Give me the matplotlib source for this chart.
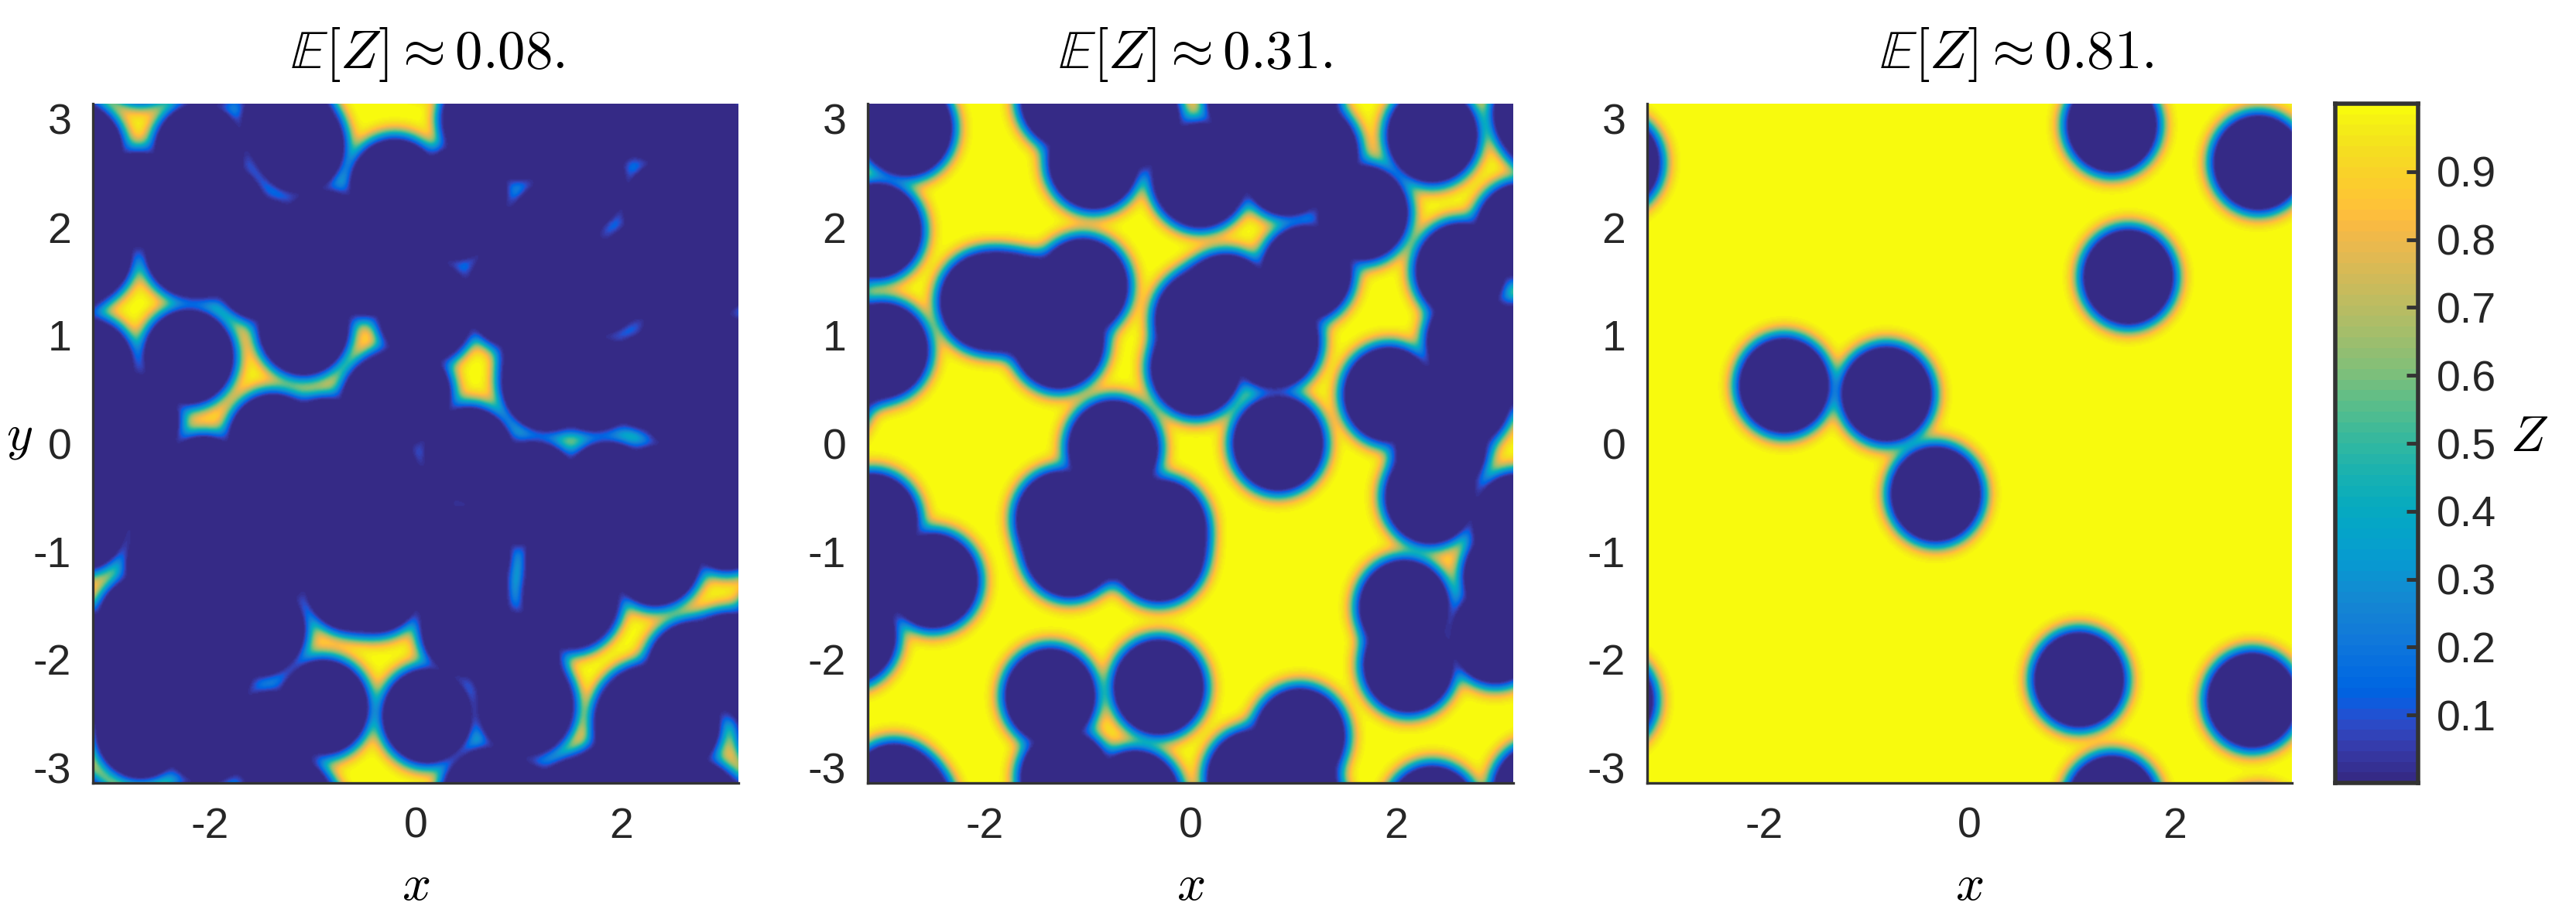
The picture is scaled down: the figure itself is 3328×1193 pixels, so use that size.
import numpy as np
import matplotlib
matplotlib.use("Agg")
import matplotlib.pyplot as plt
from matplotlib.colors import ListedColormap

plt.rcParams['font.family'] = ['Liberation Sans', 'DejaVu Sans']
plt.rcParams['mathtext.fontset'] = 'cm'

titles = [r'$\mathbb{E}[Z] \approx 0.08.$', r'$\mathbb{E}[Z] \approx 0.31.$', r'$\mathbb{E}[Z] \approx 0.81.$']
x_ticks = [-2, 0, 2]
y_ticks = [-3, -2, -1, 0, 1, 2, 3]
cbar_ticks = [0.1, 0.2, 0.3, 0.4, 0.5, 0.6, 0.7, 0.8, 0.9]

# Disc centres, on a reading grid of 1484 x 1530 per period
# (panel's top-left corner at 36, 25).
disc_read_1 = [
 (0,130),(280,130),(140,240),(145,1440),(510,120),(730,210),(945,55),(565,325),(330,265),
 (868,272),(1020,90),(1098,305),(1050,355),(885,225),(800,500),(805,485),(1000,465),(1005,445),
 (1225,48),(1335,48),(1358,258),(1160,205),
 (22,362),(258,352),(255,595),(25,618),
 (520,530),(450,785),(570,795),(710,700),(665,395),(290,880),(130,740),
 (755,680),(1080,657),(1085,590),(1190,657),(1310,650),(900,815),(1050,893),(1220,893),(1340,900),
 (150,1195),(1495,970),(230,990),(215,1065),(1500,1280),
 (1310,1400),(1415,1300),(1135,1140),(1330,1050),(1032,1385),(1295,1420),(1300,1500),(1150,1625),(1375,1425),
 (893,1040),(885,1130),(1135,1050),(1135,1140),(1010,910),(1005,1280),
 (625,1105),(690,1110),(420,1210),(895,1210),(565,1385),(805,1405),(1030,1380),(955,1600),(480,1600),(440,1455),
 (130,860),(340,990),(620,960),(760,950),(300,1450),(300,1300),(100,1330),(1240,1000),(1200,440),(1300,400),
 (1450,400),(1450,220),(1150,80),(1420,80),(1400,560),(1480,620),(1480,760),(1400,700),(680,860),(480,950),
 (420,405),(300,350),(430,345),(550,420),(640,350),(730,350),(300,1180),(320,1100),(250,1260),(440,1050),
]
disc_read_2 = [
 (125,80),(55,310),(70,580),(305,470),(350,470),(410,480),(530,435),(475,560),(555,155),(490,1545),(800,195),(800,175),(1335,95),
 (1175,270),(1060,135),(1000,170),(860,470),(1045,405),(970,560),(790,620),(800,510),(980,790),(1235,680),
 (1400,400),(1425,560),(1355,800),(1330,910),(1410,690),(1530,965),(1510,1090),(1270,1160),(1280,1290),(1480,1225),
 (600,800),(480,960),(500,1030),(710,980),(705,1040),(600,930),(600,985),(185,1100),(95,1575),(455,1360),(705,1340),(650,1590),
 (920,1545),(1030,1450),(1010,1560),(1480,600),
]
disc_x_3 = [-1.81, -0.81, -0.33, 1.55, 1.39, 2.82, 1.07, 2.76]
disc_y_3 = [0.535, 0.455, -0.47, 1.54, 2.95, 2.60, -2.19, -2.38]

parula = [[0.2081,0.1663,0.5292],[0.2116,0.1898,0.5777],[0.2123,0.2138,0.6270],[0.2081,0.2386,0.6771],
[0.1959,0.2645,0.7279],[0.1707,0.2919,0.7792],[0.1253,0.3242,0.8303],[0.0591,0.3598,0.8683],
[0.0117,0.3875,0.8820],[0.0060,0.4086,0.8828],[0.0165,0.4266,0.8786],[0.0329,0.4430,0.8720],
[0.0498,0.4586,0.8641],[0.0629,0.4737,0.8554],[0.0723,0.4887,0.8467],[0.0779,0.5040,0.8384],
[0.0793,0.5200,0.8312],[0.0749,0.5375,0.8263],[0.0641,0.5570,0.8240],[0.0488,0.5772,0.8228],
[0.0343,0.5966,0.8199],[0.0265,0.6137,0.8135],[0.0239,0.6287,0.8038],[0.0231,0.6418,0.7913],
[0.0228,0.6535,0.7768],[0.0267,0.6642,0.7607],[0.0384,0.6743,0.7436],[0.0590,0.6838,0.7254],
[0.0843,0.6928,0.7062],[0.1133,0.7015,0.6859],[0.1453,0.7098,0.6646],[0.1801,0.7177,0.6424],
[0.2178,0.7250,0.6193],[0.2586,0.7317,0.5954],[0.3022,0.7376,0.5712],[0.3482,0.7424,0.5473],
[0.3953,0.7459,0.5244],[0.4420,0.7481,0.5033],[0.4871,0.7491,0.4840],[0.5300,0.7491,0.4661],
[0.5709,0.7485,0.4494],[0.6099,0.7473,0.4337],[0.6473,0.7456,0.4188],[0.6834,0.7435,0.4044],
[0.7184,0.7411,0.3905],[0.7525,0.7384,0.3768],[0.7858,0.7356,0.3633],[0.8185,0.7327,0.3498],
[0.8507,0.7299,0.3360],[0.8824,0.7274,0.3217],[0.9139,0.7258,0.3063],[0.9450,0.7261,0.2886],
[0.9739,0.7314,0.2666],[0.9938,0.7455,0.2403],[0.9990,0.7653,0.2164],[0.9955,0.7861,0.1967],
[0.9880,0.8066,0.1794],[0.9789,0.8271,0.1633],[0.9697,0.8481,0.1475],[0.9626,0.8705,0.1309],
[0.9589,0.8949,0.1132],[0.9598,0.9218,0.0948],[0.9661,0.9514,0.0755],[0.9763,0.9831,0.0538]]
cmap = ListedColormap(parula)

def read_to_data(pairs):
    a = np.array(pairs, float)
    return -np.pi + (a[:, 0] - 36) / 1484 * 2 * np.pi, np.pi - (a[:, 1] - 25) / 1530 * 2 * np.pi

grid = np.linspace(-np.pi, np.pi, 640)
GX, GY = np.meshgrid(grid, grid)

def field(cx, cy, r0=0.41, s=0.115):
    Z = np.ones_like(GX)
    for a, b in zip(cx, cy):
        dx = (GX - a + np.pi) % (2 * np.pi) - np.pi
        dy = (GY - b + np.pi) % (2 * np.pi) - np.pi
        d = np.hypot(dx, dy)
        t = np.clip(d - r0, 0, None) / s
        Z *= 1 - np.exp(-t ** 2)
    return Z

W, H = 3328, 1193
fig = plt.figure(figsize=(W / 100, H / 100), dpi=100)

def axes_px(l, r, t, b):
    return fig.add_axes([l / W, 1 - b / H, (r - l) / W, (b - t) / H])

FS_TICK = 40
FS_MATH = 47
FS_TITLE = 51
DARK = '#333333'
panels = [(120, 954), (1121, 1955), (2128, 2961)]
title_cx = [552, 1544, 2605]
fields = [field(*read_to_data(disc_read_1)), field(*read_to_data(disc_read_2)), field(disc_x_3, disc_y_3)]

for i, ((l, r), Z) in enumerate(zip(panels, fields)):
    ax = axes_px(l, r, 134, 1012)
    ax.imshow(Z, extent=[-np.pi, np.pi, -np.pi, np.pi], origin='lower', aspect='auto',
              cmap=cmap, vmin=0, vmax=1, interpolation='bilinear')
    ax.set_xticks(x_ticks)
    ax.set_yticks(y_ticks)
    ax.set_xticklabels([str(v) for v in x_ticks])
    ax.set_yticklabels([str(v) for v in y_ticks])
    ax.tick_params(length=0, labelsize=FS_TICK, labelcolor='#262626')
    ax.tick_params(axis='x', pad=22)
    ax.tick_params(axis='y', pad=20)
    for side in ('top', 'right'):
        ax.spines[side].set_visible(False)
    for side in ('left', 'bottom'):
        ax.spines[side].set_color(DARK)
        ax.spines[side].set_linewidth(2.4)
    fig.text((l + r) / 2 / W, 1 - 1146 / H, r'$x$', fontsize=FS_MATH, ha='center', va='center')
    fig.text(title_cx[i] / W, 1 - 70 / H, titles[i], fontsize=FS_TITLE, ha='center', va='center')

fig.text(25 / W, 1 - 566 / H, r'$y$', fontsize=FS_MATH, ha='center', va='center')

cax = axes_px(3017, 3124, 134, 1012)
cax.imshow(np.linspace(0, 1, 64)[:, None], extent=[0, 1, 0, 1], origin='lower', aspect='auto',
           cmap=cmap, vmin=0, vmax=1, interpolation='nearest')
cax.set_xticks([])
cax.yaxis.tick_right()
cax.set_yticks(cbar_ticks)
cax.set_yticklabels([f'{v:.1f}' for v in cbar_ticks])
cax.tick_params(axis='y', direction='in', length=11, width=3.5, color=DARK, labelsize=FS_TICK,
                labelcolor='#262626', pad=17)
for sp in cax.spines.values():
    sp.set_color(DARK)
    sp.set_linewidth(4)
fig.text(3268 / W, 1 - 566 / H, r'$Z$', fontsize=FS_MATH, ha='center', va='center')

fig.savefig('out.png', dpi=100, facecolor='white')
